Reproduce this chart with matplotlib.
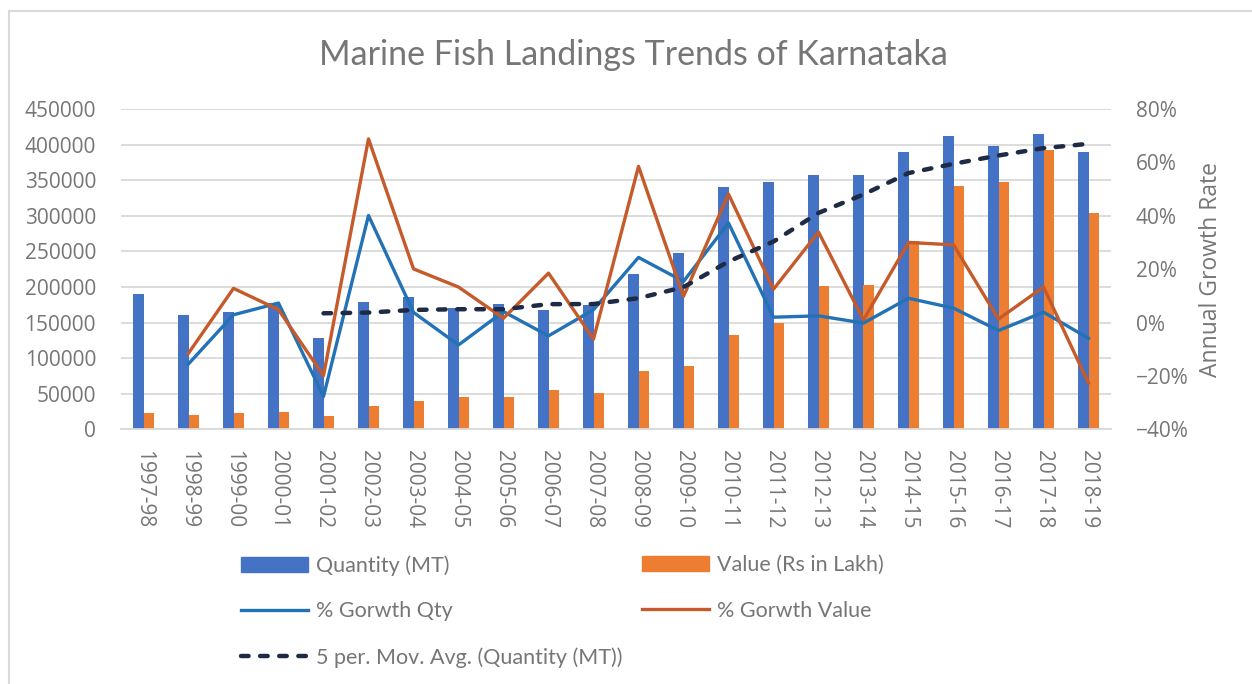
import numpy as np
import matplotlib
matplotlib.use("Agg")
import matplotlib.pyplot as plt
from matplotlib.patches import Patch, Rectangle
from matplotlib.lines import Line2D
from matplotlib.ticker import PercentFormatter

## data
years = ['1997-98', '1998-99', '1999-00', '2000-01', '2001-02', '2002-03', '2003-04',
         '2004-05', '2005-06', '2006-07', '2007-08', '2008-09', '2009-10', '2010-11',
         '2011-12', '2012-13', '2013-14', '2014-15', '2015-16', '2016-17', '2017-18',
         '2018-19']
quantity = [189800, 160300, 164900, 177000, 128000, 179400, 186000, 170100, 176200, 167700,
            175000, 218000, 247900, 340300, 347300, 357100, 357100, 389500, 411400, 398300,
            414300, 389500]
value = [22900, 20100, 22900, 24300, 19200, 32800, 39800, 45400, 45900, 54800, 51000,
         81500, 89500, 132600, 149900, 201000, 203400, 264800, 342100, 346800, 392700, 303700]
growth_qty = [np.nan, -15.5, 2.9, 7.3, -27.7, 40.1, 3.8, -8.4, 4.1, -5.0, 4.8, 24.4, 15.4,
              37.3, 2.0, 2.5, -0.2, 9.1, 5.4, -3.0, 3.9, -5.9]
growth_val = [np.nan, -11.5, 12.8, 4.8, -19.9, 68.8, 20.1, 13.3, 1.6, 18.5, -6.2, 58.5, 9.8,
              48.1, 12.5, 33.9, 1.0, 30.0, 29.1, 1.3, 13.3, -22.7]
mov_avg = [np.nan, np.nan, np.nan, np.nan, 163000, 164000, 167700, 168700, 168700, 175800,
           176000, 184200, 199700, 235700, 263800, 304000, 330000, 360000, 373000, 384700,
           395000, 401100]

GRAY = '#767676'
GRID = '#d9d9d9'
TICKFONT = 'Open Sans'
TEXTFONT = 'Lato'

fig = plt.figure(figsize=(12.52, 6.84), dpi=100)
fig.patch.set_facecolor('white')

# chart border (light gray frame)
fig.patches.append(Rectangle((9 / 1252, -0.05), 1.1, 1 - 10.5 / 684 + 0.05,
                             transform=fig.transFigure, fill=False,
                             edgecolor=GRID, linewidth=1.5))

ax = fig.add_axes([121 / 1252, 1 - 429.3 / 684, 990 / 1252, 320.3 / 684])
ax2 = ax.twinx()

x = np.arange(len(years))
w = 0.233
ax.bar(x - w / 2, quantity, width=w, color='#4472C4', zorder=2)
ax.bar(x + w / 2, value, width=w, color='#ED7D31', zorder=2)

ax.set_xlim(-0.5, len(years) - 0.5)
ax.set_ylim(0, 450000)
ax.set_yticks(np.arange(0, 450001, 50000))
ax.yaxis.grid(True, color=GRID, linewidth=1.3, zorder=0)
ax.set_axisbelow(True)

ax2.plot(x, growth_qty, color='#2272B5', linewidth=2.4, zorder=3)
ax2.plot(x, growth_val, color='#C55A2B', linewidth=2.4, zorder=3)
ax2.set_ylim(-40, 80)
ax2.set_yticks(np.arange(-40, 81, 20))
ax2.yaxis.set_major_formatter(PercentFormatter(100, decimals=0))

# moving average trendline lives on the quantity scale but sits on top of everything
ma, = ax2.plot(x, mov_avg, color='#1F2A44', linewidth=3.2, transform=ax.transData,
               zorder=4, solid_capstyle='round', dash_capstyle='round')
ma.set_dashes((1.7, 2.6))

for a in (ax, ax2):
    for s in a.spines.values():
        s.set_visible(False)
    a.tick_params(length=0, colors=GRAY, labelsize=15)
ax.spines['bottom'].set_visible(True)
ax.spines['bottom'].set_color(GRID)
ax.spines['bottom'].set_linewidth(1.3)

ax.set_xticks(x)
ax.set_xticklabels(years, rotation=-90, fontfamily=TICKFONT)
ax.tick_params(axis='x', pad=15)
ax.tick_params(axis='y', pad=18)
ax2.tick_params(axis='y', pad=18)
for t in ax.get_yticklabels() + ax2.get_yticklabels():
    t.set_fontfamily(TICKFONT)

ax2.set_ylabel('Annual Growth Rate', color=GRAY, fontsize=16.5, fontfamily=TICKFONT,
               labelpad=7)

fig.text(633 / 1252, 1 - 55 / 684, 'Marine Fish Landings Trends of Karnataka',
         ha='center', va='center', color=GRAY, fontsize=24.5, fontfamily=TEXTFONT)

# legend: two blocks placed under the chart
h_q = Patch(color='#4472C4')
h_v = Patch(color='#ED7D31')
h_gq = Line2D([], [], color='#2272B5', linewidth=2.4)
h_gv = Line2D([], [], color='#C55A2B', linewidth=2.4)
h_ma = Line2D([], [], color='#1F2A44', linewidth=3.2, dash_capstyle='round')
h_ma.set_dashes((1.7, 2.6))

leg_kw = dict(frameon=False, borderpad=0, borderaxespad=0, handlelength=3.1,
              handletextpad=0.4, labelspacing=1.2, labelcolor=GRAY,
              prop={'family': TEXTFONT, 'size': 15.5})
leg1 = fig.legend([h_q, h_gq, h_ma],
                  ['Quantity (MT)', '% Gorwth Qty', '5 per. Mov. Avg. (Quantity (MT))'],
                  loc='upper left', bbox_to_anchor=(241 / 1252, 1 - 555 / 684), **leg_kw)
leg2 = fig.legend([h_v, h_gv], ['Value (Rs in Lakh)', '% Gorwth Value'],
                  loc='upper left', bbox_to_anchor=(642 / 1252, 1 - 555 / 684), **leg_kw)

plt.savefig('out.png', dpi=100)
